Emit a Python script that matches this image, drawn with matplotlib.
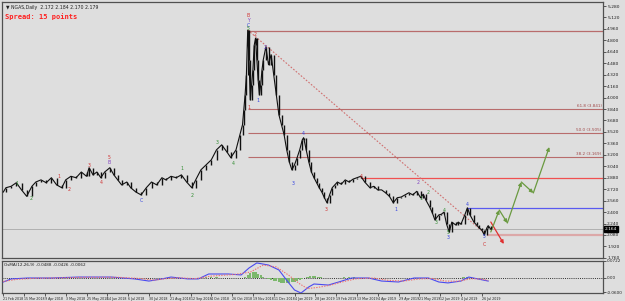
import matplotlib
matplotlib.use("Agg")
import matplotlib.pyplot as plt
from matplotlib import font_manager
import numpy as np

# ---------------- data ----------------
symbol_title = "\u25bc NGAS,Daily  2.172 2.184 2.170 2.179"
spread_text = "Spread: 15 points"

bars = [0, 2, 6, 10, 14, 18, 22, 25, 29, 33, 37, 41, 45, 48, 52, 56, 60, 64, 66, 69,
        72, 75, 78, 82, 85, 88, 91, 95, 98, 102, 106, 110, 114, 118, 122, 125, 129, 133,
        137, 141, 145, 148, 152, 156, 160, 164, 168, 172, 175, 179, 182, 184, 185, 186,
        187, 188, 189, 190, 191, 192, 193, 194, 195, 196, 197, 198, 199, 200, 202, 204,
        206, 208, 210, 212, 214, 216, 218, 220, 222, 224, 226, 228, 230, 231, 233, 235,
        237, 239, 241, 243, 245, 247, 249, 251, 253, 255, 257, 260, 263, 266, 269, 272,
        275, 278, 282, 285, 288, 291, 294, 297, 300, 303, 306, 309, 312, 315, 318, 321,
        323, 325, 328, 330, 332, 335, 337, 339, 341, 343, 345, 348, 350, 352, 355, 357,
        359, 362, 364, 366, 368, 370, 372, 373, 375]
closes = [2.68, 2.74, 2.76, 2.81, 2.71, 2.62, 2.76, 2.82, 2.85, 2.81, 2.88, 2.78, 2.74,
          2.85, 2.90, 2.88, 2.96, 2.90, 3.02, 2.92, 2.96, 2.88, 2.96, 3.02, 2.92, 2.85,
          2.78, 2.82, 2.74, 2.68, 2.64, 2.74, 2.82, 2.78, 2.88, 2.85, 2.90, 2.88, 2.92,
          2.82, 2.74, 2.85, 2.99, 3.06, 3.13, 3.27, 3.34, 3.24, 3.16, 3.27, 3.48, 3.62,
          3.83, 4.04, 4.32, 4.94, 4.53, 3.97, 4.18, 4.39, 4.73, 4.83, 4.53, 4.25, 4.04,
          4.18, 4.39, 4.53, 4.71, 4.46, 4.60, 4.32, 4.04, 3.76, 3.62, 3.48, 3.27, 3.10,
          2.99, 3.06, 3.16, 3.27, 3.41, 3.44, 3.27, 3.10, 2.96, 2.88, 2.81, 2.74, 2.68,
          2.60, 2.53, 2.64, 2.74, 2.78, 2.82, 2.79, 2.85, 2.82, 2.86, 2.88, 2.90, 2.82,
          2.74, 2.76, 2.71, 2.71, 2.67, 2.62, 2.53, 2.60, 2.61, 2.64, 2.67, 2.64, 2.69,
          2.60, 2.65, 2.57, 2.47, 2.39, 2.29, 2.36, 2.37, 2.40, 2.23, 2.12, 2.26, 2.22,
          2.26, 2.23, 2.36, 2.46, 2.36, 2.26, 2.22, 2.18, 2.15, 2.08, 2.18, 2.21, 2.16]

date_labels = ["21 Feb 2018", "15 Mar 2018", "9 Apr 2018", "3 May 2018", "25 May 2018",
               "14 Jun 2018", "6 Jul 2018", "30 Jul 2018", "21 Aug 2018", "12 Sep 2018",
               "4 Oct 2018", "26 Oct 2018", "19 Nov 2018", "11 Dec 2018", "4 Jan 2019",
               "28 Jan 2019", "19 Feb 2019", "13 Mar 2019", "4 Apr 2019", "29 Apr 2019",
               "21 May 2019", "12 Jun 2019", "4 Jul 2019", "26 Jul 2019"]
date_bars = [16 * i for i in range(len(date_labels))]

price_ticks = [5.280, 5.120, 4.960, 4.800, 4.640, 4.480, 4.320, 4.160, 4.000, 3.840,
               3.680, 3.520, 3.360, 3.200, 3.040, 2.880, 2.720, 2.560, 2.400, 2.240,
               2.080, 1.920, 1.760]
bid_price = 2.164

# Fibonacci retracement
fib_low, fib_high = 2.080, 4.930
fib_levels = [0.382, 0.5, 0.618]
fib_start_bar = 188

# horizontal levels
red_level, red_start = 2.876, 275
blue_level, blue_start = 2.457, 357
pink_level, pink_start = 2.080, 372

# dotted trend line
trend_bars = [188, 370]
trend_prices = [4.945, 2.108]

# projections
red_arrow_bars = [375, 385]
red_arrow_prices = [2.261, 1.954]
green_bars = [375, 381.5, 387.7, 398.5, 407.7, 420]
green_prices = [2.122, 2.429, 2.247, 2.820, 2.667, 3.309]

# wave labels
wave_text = ["1", "2", "1", "2", "3", "4", "5", "B", "C", "1", "2", "3", "4",
             "B", "Y", "C", "5", "2", "2", "1", "1", "3", "4", "3", "4",
             "1", "2", "1", "2", "3", "4", "5", "3", "4", "5", "C"]
wave_bar = [10.8, 21.5, 43, 51, 66, 75, 81.5, 81.5, 106, 137.7, 145, 164.6, 177,
            188.5, 188.5, 188.5, 188.5, 194, 201.5, 196, 189, 223, 230.8, 248.5, 275,
            302, 319, 321.5, 327, 333, 339, 342, 342, 357, 370, 370]
wave_price = [2.806, 2.583, 2.904, 2.709, 3.044, 2.820, 3.160, 3.090, 2.555, 3.002, 2.625, 3.379, 3.072,
              5.150, 5.080, 5.010, 4.960, 4.875, 4.707, 3.966, 3.855, 2.806, 3.505, 2.429, 2.904,
              2.429, 2.820, 2.583, 2.667, 2.248, 2.415, 2.108, 2.038, 2.499, 2.052, 1.940]
wave_color = ["#2e8b2e", "#2e8b2e", "#d03030", "#d03030", "#d03030", "#d03030", "#d03030", "#8040c0",
              "#3040e0", "#2e8b2e", "#2e8b2e", "#2e8b2e", "#2e8b2e",
              "#d03030", "#8040c0", "#3040e0", "#2e8b2e", "#d03030", "#6040d0", "#3040e0", "#d03030",
              "#3040e0", "#3040e0", "#d03030", "#d03030",
              "#3040e0", "#8040c0", "#2e8b2e", "#2e8b2e", "#2e8b2e", "#2e8b2e", "#2e8b2e", "#3040e0",
              "#3040e0", "#3040e0", "#d03030"]

# indicator (OsMA / MACD 12,26,9)
ind_title = "OsMA(12,26,9) -0.0488 -0.0426 -0.0062"
macd_bars = [0, 6, 19, 37, 58, 70, 83, 101, 112, 122, 129, 142, 150, 158, 173, 183, 189,
             195, 204, 212, 219, 224, 229, 235, 239, 250, 258, 268, 281, 291, 304, 316, 327,
             335, 342, 352, 358, 365, 373]
macd_vals = [-0.017, -0.004, 0.000, 0.000, 0.004, 0.004, 0.004, -0.004, -0.013, -0.004,
             0.004, -0.004, -0.004, 0.017, 0.017, 0.013, 0.0425, 0.064, 0.055, 0.034,
             -0.017, -0.051, -0.064, -0.038, -0.0255, -0.030, -0.017, 0.000, 0.000, -0.013,
             -0.017, 0.000, 0.000, -0.017, -0.021, -0.013, 0.004, -0.004, -0.013]
sig_bars = [0, 10, 25, 40, 62, 88, 105, 116, 127, 135, 147, 160, 178, 190, 200, 210, 220,
            228, 234, 242, 252, 262, 272, 285, 296, 308, 320, 330, 340, 350, 360, 368, 373]
sig_vals = [-0.015, -0.006, -0.001, 0.000, 0.003, 0.003, -0.002, -0.009, -0.002, 0.001,
            -0.003, 0.008, 0.015, 0.025, 0.055, 0.047, 0.010, -0.025, -0.045, -0.040,
            -0.030, -0.015, -0.003, 0.000, -0.010, -0.013, -0.004, -0.002, -0.013, -0.014,
            -0.003, -0.005, -0.010]
hist_bars = [156, 160, 164, 186, 188, 190, 192, 194, 196, 198, 200, 202, 204, 206, 208, 210,
             212, 214, 216, 218, 220, 222, 224, 226, 228, 230, 232, 234, 236, 238, 240, 242,
             244, 246, 262, 266, 270, 354, 357, 360]
hist_vals = [0.003, 0.004, 0.003, 0.006, 0.014, 0.022, 0.026, 0.024, 0.018, 0.012, 0.006,
             0.000, -0.004, -0.008, -0.011, -0.014, -0.017, -0.020, -0.021, -0.022, -0.020,
             -0.018, -0.016, -0.012, -0.008, -0.004, 0.002, 0.005, 0.007, 0.008, 0.007,
             0.006, 0.004, 0.002, 0.003, 0.004, 0.003, 0.003, 0.004, 0.003]

# ---------------- drawing ----------------
W, H = 625, 301
BG = "#dedede"
fig = plt.figure(figsize=(W / 100, H / 100), dpi=100, facecolor=BG)

names = {f.name for f in font_manager.fontManager.ttflist}
narrow = "Liberation Sans Narrow" if "Liberation Sans Narrow" in names else "DejaVu Sans"
date_fs = 2.7 if narrow != "DejaVu Sans" else 2.3

def rect(x0, y0, x1, y1):
    return [x0 / W, 1 - y1 / H, (x1 - x0) / W, (y1 - y0) / H]

ax = fig.add_axes(rect(2, 2, 603, 258), facecolor=BG)
axi = fig.add_axes(rect(2, 261, 603, 293), facecolor=BG, sharex=ax)

xlim = (-1, 461.3)
ax.set_xlim(*xlim)
ax.set_ylim(1.758, 5.336)

for a in (ax, axi):
    for s in a.spines.values():
        s.set_color("#505050")
        s.set_linewidth(0.9)

# price
b = np.array(bars, dtype=float)
c = np.array(closes)
ax.vlines(b[1:], np.minimum(c[:-1], c[1:]), np.maximum(c[:-1], c[1:]),
          color="#101010", lw=1.0, zorder=4)
ax.plot(b, c, color="#101010", lw=0.8, zorder=4)

# fibonacci
fib_col = "#b86c6c"
ax.hlines(fib_high, fib_start_bar, xlim[1], color=fib_col, lw=0.9, zorder=2)
for lv in fib_levels:
    p = fib_low + lv * (fib_high - fib_low)
    ax.hlines(p, fib_start_bar, xlim[1], color=fib_col, lw=0.8, zorder=2)
    ax.text(xlim[1] - 1, p + 0.01, f"{lv*100:.1f} ({p:.3f})", fontsize=3.0,
            color="#a04848", ha="right", va="bottom")

ax.hlines(red_level, red_start, xlim[1], color="#f05050", lw=0.9, zorder=2)
ax.hlines(blue_level, blue_start, xlim[1], color="#5a5af0", lw=0.9, zorder=2)
ax.hlines(pink_level, pink_start, xlim[1], color="#dca8a8", lw=1.6, zorder=2)
ax.axhline(bid_price, color="#b0b0b0", lw=0.7, zorder=1)

ax.plot(trend_bars, trend_prices, color="#d07070", lw=0.8, ls=(0, (1.5, 1.5)), zorder=3)

ax.annotate("", xy=(red_arrow_bars[1], red_arrow_prices[1]),
            xytext=(red_arrow_bars[0], red_arrow_prices[0]),
            arrowprops=dict(arrowstyle="-|>", color="#e03030", lw=0.9,
                            mutation_scale=5, shrinkA=0, shrinkB=0))
for i in range(len(green_bars) - 1):
    ax.annotate("", xy=(green_bars[i + 1], green_prices[i + 1]),
                xytext=(green_bars[i], green_prices[i]),
                arrowprops=dict(arrowstyle="-|>", color="#6a9a40", lw=0.9,
                                mutation_scale=5, shrinkA=0, shrinkB=0))

for t, xb, yp, col in zip(wave_text, wave_bar, wave_price, wave_color):
    ax.text(xb, yp, t, fontsize=3.3, color=col, ha="center", va="center", zorder=6)

# axis ticks
ax.yaxis.tick_right()
ax.set_yticks(price_ticks)
ax.set_yticklabels([f"{v:.3f}" for v in price_ticks])
ax.tick_params(axis="y", labelsize=3.2, length=2, pad=1, colors="#202020", width=0.5)
ax.tick_params(axis="x", bottom=False, labelbottom=False)
ax.text(1.003, bid_price, f"{bid_price:.3f}", transform=ax.get_yaxis_transform(),
        fontsize=3.2, color="white", ha="left", va="center",
        bbox=dict(boxstyle="square,pad=0.15", fc="black", ec="black"), clip_on=False)

# indicator
axi.set_ylim(-0.0638, 0.0722)
axi.bar(hist_bars, hist_vals, width=1.6, color="#7cb86c", zorder=2)
axi.plot(macd_bars, macd_vals, color="#4a4af0", lw=0.8, zorder=3)
axi.plot(sig_bars, sig_vals, color="#f07070", lw=0.8, ls=(0, (1.2, 1.2)), zorder=3)
axi.axhline(0, color="#303030", lw=0.7, ls=(0, (1, 1.2)), zorder=1)
axi.yaxis.tick_right()
ind_ticks = [0.0722, 0.0, -0.0600]
axi.set_yticks(ind_ticks)
axi.set_yticklabels(["0.0722", "0.00", "-0.0600"])
axi.tick_params(axis="y", labelsize=3.0, length=2, pad=1, colors="#202020", width=0.5)
axi.set_xticks(date_bars)
axi.set_xticklabels(date_labels)
axi.tick_params(axis="x", labelsize=date_fs, length=2, pad=0.6, colors="#202020", width=0.5)
for lab in axi.get_xticklabels():
    lab.set_ha("left")
    lab.set_family(narrow)
axi.text(0.004, 0.93, ind_title, transform=axi.transAxes, fontsize=3.0,
         color="#202020", ha="left", va="top")

fig.text(6 / W, 1 - 8 / H, symbol_title, fontsize=3.3, color="#202020", ha="left", va="center")
fig.text(5 / W, 1 - 17 / H, spread_text, fontsize=5, color="#ff2020", ha="left",
         va="center", family="DejaVu Sans Mono", fontweight="bold")

fig.savefig("out.png", dpi=100, facecolor=BG)
